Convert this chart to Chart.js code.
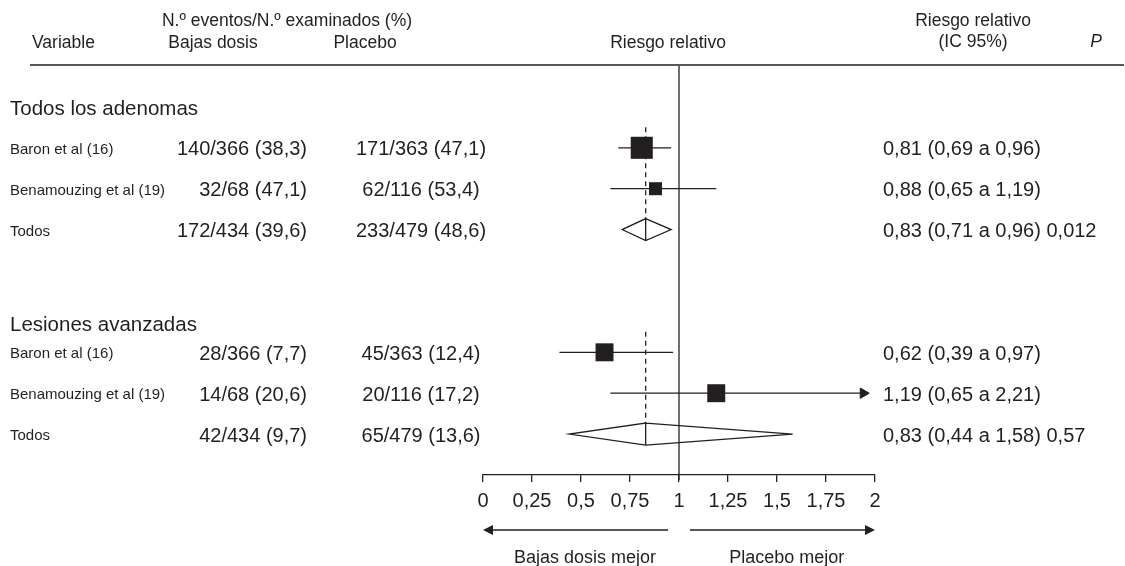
<!DOCTYPE html>
<html lang="es">
<head>
<meta charset="UTF-8">
<title>Riesgo relativo - bajas dosis vs placebo</title>
<script src="https://cdn.jsdelivr.net/npm/chart.js"></script>
<style>
  html, body { margin: 0; padding: 0; background: #fff; }
  .wrap { width: 1125px; height: 566px; }
</style>
</head>
<body>
<div class="wrap"><canvas id="forest" width="1125" height="566"></canvas></div>
<script>
// data (rows go group by group)
const groups = ['Todos los adenomas', 'Lesiones avanzadas'];
const studies = ['Baron et al (16)', 'Benamouzing et al (19)', 'Todos'];
const lowEvents = [140, 32, 172, 28, 14, 42];
const lowTotal = [366, 68, 434, 366, 68, 434];
const lowPct = [38.3, 47.1, 39.6, 7.7, 20.6, 9.7];
const plaEvents = [171, 62, 233, 45, 20, 65];
const plaTotal = [363, 116, 479, 363, 116, 479];
const plaPct = [47.1, 53.4, 48.6, 12.4, 17.2, 13.6];
const rr = [0.81, 0.88, 0.83, 0.62, 1.19, 0.83];
const rrLow = [0.69, 0.65, 0.71, 0.39, 0.65, 0.44];
const rrHigh = [0.96, 1.19, 0.96, 0.97, 2.21, 1.58];
const pValues = [null, null, '0,012', null, null, '0,57'];
const xTicks = [0, 0.25, 0.5, 0.75, 1, 1.25, 1.5, 1.75, 2];

const ink = '#231f20';
const family = '"Liberation Sans", Arial, Helvetica, sans-serif';
const xMax = 2;
const arrowX = xMax - 0.06;    // where a truncated interval gets its arrow head
const halfH = 0.27;            // diamond half height, in rows
const headerRows = [1, 6.3];

const fmt = v => String(v).replace('.', ',');
const fmt2 = v => v.toFixed(2).replace('.', ',');
const rowOf = i => 2 + Math.floor(i / 3) * 5 + (i % 3);
const pooled = i => i % 3 === 2;
const idx = rr.map((_, i) => i);

const line = (data, extra) => Object.assign({
  type: 'scatter', data, showLine: true, borderColor: ink, borderWidth: 1.3,
  pointRadius: 0, clip: false, fill: false, tension: 0
}, extra || {});

const datasets = [];
// no-effect line
datasets.push(line([{ x: 1, y: 0 }, { x: 1, y: 10.12 }]));
// dashed line at the pooled estimate of each group
idx.filter(pooled).forEach(i => {
  datasets.push(line([{ x: rr[i], y: rowOf(i - 2) - 0.5 }, { x: rr[i], y: rowOf(i) - halfH }],
    { borderDash: [5, 4] }));
});
// confidence intervals of the single studies
idx.filter(i => !pooled(i)).forEach(i => {
  const hi = rrHigh[i] > xMax ? arrowX : rrHigh[i];
  datasets.push(line([{ x: rrLow[i], y: rowOf(i) }, { x: hi, y: rowOf(i) }]));
});
// arrow heads where the interval runs past the axis
const cut = idx.filter(i => rrHigh[i] > xMax);
datasets.push({
  type: 'scatter', clip: false,
  data: cut.map(i => ({ x: arrowX, y: rowOf(i) })),
  pointStyle: 'triangle', rotation: 90, pointRadius: 6,
  backgroundColor: ink, borderColor: ink, borderWidth: 1
});
// squares
const single = idx.filter(i => !pooled(i));
datasets.push({
  type: 'scatter', clip: false,
  data: single.map(i => ({ x: rr[i], y: rowOf(i) })),
  pointStyle: 'rect', pointRadius: [15.6, 9.2, 12.7, 12.7],
  backgroundColor: ink, borderColor: ink, borderWidth: 0
});
// diamonds for the pooled rows
idx.filter(pooled).forEach(i => {
  const r = rowOf(i);
  datasets.push(line([
    { x: rr[i], y: r - halfH }, { x: rrHigh[i], y: r }, { x: rr[i], y: r + halfH },
    { x: rrLow[i], y: r }, { x: rr[i], y: r - halfH }, { x: rr[i], y: r + halfH }
  ]));
});

function text(ctx, str, x, y, size, align, style) {
  ctx.font = (style || '') + ' ' + size + 'px ' + family;
  ctx.textAlign = align || 'left';
  ctx.fillText(str, x, y);
}

function arrow(ctx, x0, x1, y) {
  const dir = Math.sign(x1 - x0);
  ctx.beginPath();
  ctx.moveTo(x0, y);
  ctx.lineTo(x1 - dir * 8, y);
  ctx.stroke();
  ctx.beginPath();
  ctx.moveTo(x1, y);
  ctx.lineTo(x1 - dir * 10, y - 5);
  ctx.lineTo(x1 - dir * 10, y + 5);
  ctx.closePath();
  ctx.fill();
}

const tablePlugin = {
  id: 'table',
  afterDraw(chart) {
    const { ctx, scales: { x, y }, chartArea } = chart;
    ctx.save();
    ctx.fillStyle = ink;
    ctx.strokeStyle = ink;
    ctx.textBaseline = 'middle';

    // column headers
    text(ctx, 'N.º eventos/N.º examinados (%)', 287, 21, 17.5, 'center');
    text(ctx, 'Variable', 32, 43, 17.5);
    text(ctx, 'Bajas dosis', 213, 43, 17.5, 'center');
    text(ctx, 'Placebo', 365, 43, 17.5, 'center');
    text(ctx, 'Riesgo relativo', 668, 43, 17.5, 'center');
    text(ctx, 'Riesgo relativo', 973, 21, 17.5, 'center');
    text(ctx, '(IC 95%)', 973, 42, 17.5, 'center');
    text(ctx, 'P', 1096, 42, 17.5, 'center', 'italic');

    ctx.lineWidth = 1.6;
    ctx.beginPath();
    ctx.moveTo(30, y.getPixelForValue(0) - 1);
    ctx.lineTo(1124, y.getPixelForValue(0) - 1);
    ctx.stroke();

    // group titles
    groups.forEach((g, k) => text(ctx, g, 10, y.getPixelForValue(headerRows[k]) + 2, 20.5));

    // rows
    idx.forEach(i => {
      const py = y.getPixelForValue(rowOf(i)) + 2;
      text(ctx, studies[i % 3], 10, py, 15);
      text(ctx, lowEvents[i] + '/' + lowTotal[i] + ' (' + fmt(lowPct[i].toFixed(1)) + ')', 307, py, 20, 'right');
      text(ctx, plaEvents[i] + '/' + plaTotal[i] + ' (' + fmt(plaPct[i].toFixed(1)) + ')', 421, py, 20, 'center');
      let s = fmt2(rr[i]) + ' (' + fmt2(rrLow[i]) + ' a ' + fmt2(rrHigh[i]) + ')';
      if (pValues[i]) s += ' ' + pValues[i];
      text(ctx, s, 883, py, 20);
    });

    // direction arrows under the axis
    const ay = chartArea.bottom + 55;
    ctx.lineWidth = 1.3;
    arrow(ctx, x.getPixelForValue(0.944), x.getPixelForValue(0), ay);
    arrow(ctx, x.getPixelForValue(1.056), x.getPixelForValue(2), ay);
    text(ctx, 'Bajas dosis mejor', x.getPixelForValue(0.52), ay + 28, 18, 'center');
    text(ctx, 'Placebo mejor', x.getPixelForValue(1.55), ay + 28, 18, 'center');
    ctx.restore();
  }
};

new Chart(document.getElementById('forest'), {
  type: 'scatter',
  data: { datasets },
  options: {
    responsive: false,
    animation: false,
    layout: { padding: { left: 483, right: 250, top: 66, bottom: 46 } },
    plugins: { legend: { display: false }, tooltip: { enabled: false } },
    scales: {
      x: {
        type: 'linear', min: 0, max: xMax,
        afterBuildTicks: s => { s.ticks = xTicks.map(v => ({ value: v })); },
        grid: { drawOnChartArea: false, drawTicks: true, tickLength: 7, color: ink, lineWidth: 1.3 },
        border: { color: ink, width: 1.3 },
        ticks: { color: ink, font: { size: 20, family }, padding: 7, maxRotation: 0, autoSkip: false, callback: v => fmt(v) }
      },
      y: { type: 'linear', min: 0, max: 10, reverse: true, display: false }
    }
  },
  plugins: [tablePlugin]
});
</script>
</body>
</html>
